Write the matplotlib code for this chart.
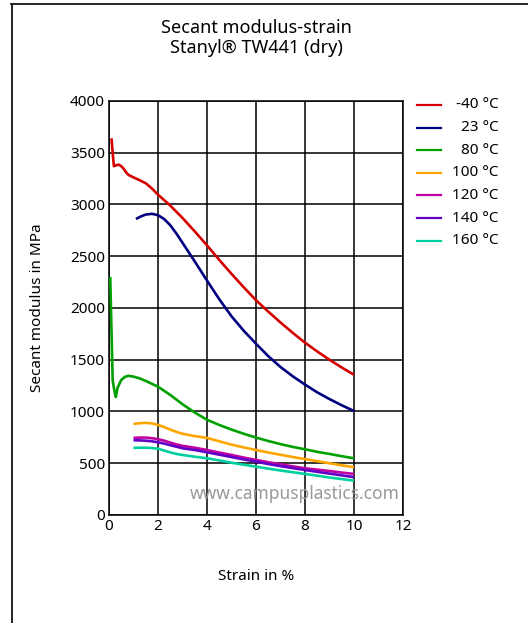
import matplotlib
matplotlib.use("Agg")
import matplotlib.pyplot as plt
from matplotlib.lines import Line2D

plt.rcParams['font.family'] = ['Noto Sans', 'DejaVu Sans']

labels = ["-40 °C", "23 °C", "80 °C", "100 °C", "120 °C", "140 °C", "160 °C"]
colors = ["#d40000", "#000080", "#00a000", "#ffa500", "#c000a0", "#6000c8", "#00d0a0"]

x_m40 = [0.1, 0.15, 0.2, 0.3, 0.4, 0.5, 0.6, 0.7, 0.8, 1.0, 1.25, 1.5, 1.75, 2.0, 2.5, 3.0, 3.5,
         4.0, 4.5, 5.0, 5.5, 6.0, 6.5, 7.0, 7.5, 8.0, 8.5, 9.0, 9.5, 10.0]
y_m40 = [3640, 3500, 3370, 3380, 3385, 3370, 3345, 3310, 3285, 3262, 3235, 3205, 3155, 3095, 2990,
         2870, 2740, 2605, 2465, 2330, 2200, 2075, 1965, 1860, 1760, 1665, 1580, 1500, 1425, 1355]

x_23 = [1.1, 1.3, 1.5, 1.75, 2.0, 2.25, 2.5, 2.75, 3.0, 3.5, 4.0, 4.5, 5.0, 5.5, 6.0, 6.5,
        7.0, 7.5, 8.0, 8.5, 9.0, 9.5, 10.0]
y_23 = [2860, 2885, 2903, 2910, 2897, 2860, 2800, 2720, 2630, 2450, 2265, 2085, 1920, 1780,
        1655, 1535, 1430, 1340, 1260, 1185, 1120, 1060, 1005]

x_80 = [0.05, 0.1, 0.15, 0.22, 0.28, 0.35, 0.5, 0.65, 0.8, 1.0, 1.25, 1.5, 2.0, 2.5, 3.0,
        3.5, 4.0, 4.5, 5.0, 5.5, 6.0, 6.5, 7.0, 7.5, 8.0, 8.5, 9.0, 9.5, 10.0]
y_80 = [2300, 1800, 1300, 1200, 1140, 1230, 1305, 1335, 1345, 1337, 1320, 1295, 1240, 1160,
        1070, 990, 920, 870, 825, 785, 748, 715, 685, 658, 635, 610, 590, 568, 548]

x_100 = [1.0, 1.25, 1.5, 1.75, 2.0, 2.25, 2.5, 2.75, 3.0, 3.5, 4.0, 4.5, 5.0, 5.5, 6.0,
         6.5, 7.0, 7.5, 8.0, 8.5, 9.0, 9.5, 10.0]
y_100 = [880, 887, 890, 885, 870, 850, 825, 803, 785, 762, 745, 712, 680, 653, 628,
         604, 582, 560, 540, 520, 500, 480, 462]

x_120 = [1.0, 1.25, 1.5, 1.75, 2.0, 2.25, 2.5, 2.75, 3.0, 3.5, 4.0, 4.5, 5.0, 5.5, 6.0,
         6.5, 7.0, 7.5, 8.0, 8.5, 9.0, 9.5, 10.0]
y_120 = [745, 748, 748, 742, 733, 718, 700, 682, 668, 650, 628, 603, 580, 555, 532,
         510, 490, 470, 452, 438, 425, 410, 397]

x_140 = [1.0, 1.25, 1.5, 1.75, 2.0, 2.25, 2.5, 2.75, 3.0, 3.5, 4.0, 4.5, 5.0, 5.5, 6.0,
         6.5, 7.0, 7.5, 8.0, 8.5, 9.0, 9.5, 10.0]
y_140 = [722, 721, 718, 712, 702, 690, 675, 660, 645, 628, 606, 583, 560, 537, 515,
         493, 472, 453, 435, 417, 400, 383, 366]

x_160 = [1.0, 1.25, 1.5, 1.75, 2.0, 2.25, 2.5, 2.75, 3.0, 3.5, 4.0, 4.5, 5.0, 5.5, 6.0,
         6.5, 7.0, 7.5, 8.0, 8.5, 9.0, 9.5, 10.0]
y_160 = [648, 650, 650, 647, 640, 623, 605, 590, 580, 563, 548, 527, 505, 486, 467,
         448, 430, 413, 397, 380, 362, 347, 332]

series = [(x_m40, y_m40), (x_23, y_23), (x_80, y_80), (x_100, y_100),
          (x_120, y_120), (x_140, y_140), (x_160, y_160)]

fig = plt.figure(figsize=(5.28, 6.23), dpi=100)
ax = fig.add_axes([109/528, 1-515/623, (403-109)/528, (515-101)/623])

for (xs, ys), c in zip(series, colors):
    ax.plot(xs, ys, color=c, lw=1.9, solid_capstyle='butt', solid_joinstyle='round', zorder=3)

ax.set_xlim(0, 12)
ax.set_ylim(0, 4000)
ax.set_xticks(range(0, 13, 2))
ax.set_yticks(range(0, 4001, 500))
ax.grid(True, color='black', lw=1.1)
for s in ax.spines.values():
    s.set_linewidth(1.1)
ax.tick_params(length=0, labelsize=11, pad=3)
ax.set_xlabel("Strain in %", fontsize=11, labelpad=25)
ax.set_ylabel("Secant modulus in MPa", fontsize=11, labelpad=18)

ax.text(0.99, 0.028, "www.campusplastics.com", transform=ax.transAxes,
        ha='right', va='bottom', fontsize=12.5, color='#999999', zorder=4)

fig.text(256/528, 1-28/623, "Secant modulus-strain", ha='center', va='center', fontsize=13)
fig.text(256/528, 1-48/623, "Stanyl® TW441 (dry)", ha='center', va='center', fontsize=13)

for i, (lab, c) in enumerate(zip(labels, colors)):
    yy = 1 - (105 + i*22.6)/623
    fig.add_artist(Line2D([417/528, 441/528], [yy, yy], color=c, lw=1.6,
                          transform=fig.transFigure))
    fig.text(499/528, yy, lab, ha='right', va='center', fontsize=11)

# frame lines (top and left)
fig.add_artist(Line2D([11/528, 1.0], [1-4/623, 1-4/623], color='black', lw=1.2,
                      transform=fig.transFigure))
fig.add_artist(Line2D([11.5/528, 11.5/528], [0, 1-4/623], color='black', lw=1.2,
                      transform=fig.transFigure))

fig.savefig("out.png", dpi=100)
